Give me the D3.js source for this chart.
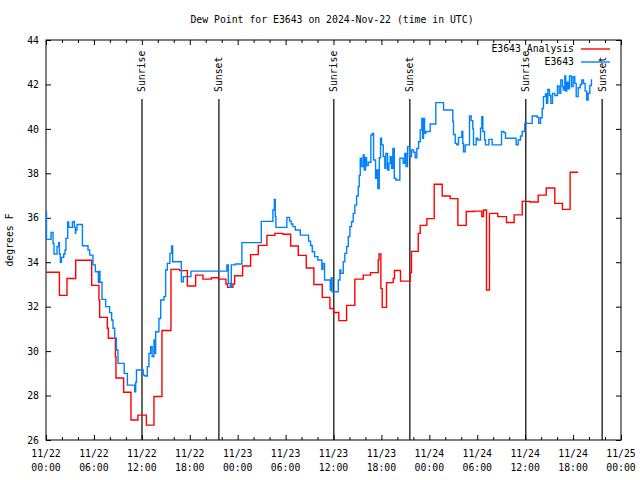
<!DOCTYPE html>
<html><head><meta charset="utf-8">
<script src="https://cdn.jsdelivr.net/npm/d3@7"></script>
<style>
body{margin:0;background:#fff;}
text{font-family:"DejaVu Sans Mono",monospace;font-size:9.8px;fill:#000;}
</style></head>
<body><svg id="c" width="640" height="480"></svg>
<script>
// Hours since 2024-11-22 00:00 UTC
const analysisHours = [0.00,1.68,2.63,3.72,5.72,6.63,6.72,7.68,7.81,8.69,8.76,9.72,10.64,11.51,12.57,13.52,14.52,15.65,16.73,17.70,18.74,19.65,20.70,21.62,22.53,22.74,23.40,23.62,24.62,25.62,26.58,27.66,28.66,29.66,30.63,31.59,32.59,33.54,34.59,35.55,36.01,36.67,37.64,38.67,39.73,40.64,41.60,41.70,41.93,42.10,42.64,43.48,43.64,44.39,45.61,45.77,46.61,46.86,47.69,48.61,49.61,50.61,51.57,52.62,53.62,54.57,54.78,55.16,55.53,56.57,57.66,58.62,59.63,60.58,61.63,62.63,63.71,64.67,65.63,66.63];
const analysisValues = [33.55,32.51,33.27,34.09,32.96,32.30,31.52,31.03,30.58,29.75,28.79,28.15,26.90,27.12,26.67,27.96,30.93,33.68,33.62,32.93,33.42,33.24,33.30,33.24,33.02,32.87,33.02,33.39,33.83,34.34,34.76,35.21,35.30,35.26,34.73,34.31,33.74,33.00,32.42,31.92,31.74,31.37,32.06,33.24,33.42,33.53,34.10,34.37,32.81,31.97,33.08,33.27,33.63,33.15,33.53,34.49,35.30,35.66,35.96,37.51,36.98,36.86,35.66,36.28,36.30,36.05,36.35,32.75,36.20,36.05,35.79,36.13,36.74,36.71,37.02,37.34,36.65,36.38,38.05,38.05];

const stationHours = [0.00,0.06,0.63,0.88,1.00,1.38,1.59,1.68,1.80,1.93,2.22,2.38,2.50,2.72,2.84,3.30,3.47,3.55,3.68,3.72,3.88,4.56,5.26,5.47,5.88,6.18,6.56,6.68,6.76,7.01,7.47,7.97,8.22,8.39,8.60,8.81,9.01,9.79,10.19,11.10,11.23,11.33,12.02,12.17,12.39,12.69,12.89,13.10,13.29,13.52,13.64,13.73,14.14,14.36,14.77,14.98,15.19,15.52,15.73,15.86,16.95,17.20,18.15,22.65,22.83,23.08,23.20,23.70,24.53,26.96,28.41,28.59,28.71,28.79,30.16,30.50,30.71,30.91,31.21,31.84,32.88,33.13,33.34,33.63,34.04,34.54,34.67,34.88,35.60,35.72,35.82,36.60,36.80,36.92,37.22,37.42,37.64,37.85,38.05,38.26,38.47,38.67,38.89,39.10,39.22,39.35,39.51,39.72,39.85,40.01,40.14,40.35,40.68,40.85,41.02,41.27,41.43,41.55,41.73,41.89,42.02,42.23,42.43,42.55,42.77,42.93,43.10,43.27,43.43,43.61,43.81,44.31,44.73,44.93,45.08,45.27,45.52,45.77,46.02,46.23,46.43,46.65,46.86,47.06,47.15,47.27,47.40,47.56,48.11,48.81,49.78,50.94,51.03,51.24,51.44,51.65,52.07,52.19,52.28,52.49,53.03,53.24,53.44,53.53,53.87,54.07,54.41,54.57,54.70,54.91,55.03,55.45,55.87,57.04,57.32,57.54,58.87,59.13,59.41,59.63,59.95,60.88,61.50,61.70,61.92,62.13,62.29,62.54,62.67,62.83,63.04,63.21,63.42,63.71,64.04,64.26,64.46,64.67,64.79,64.96,65.08,65.21,65.38,65.55,65.80,66.01,66.21,66.39,66.64,66.89,67.09,67.30,67.51,67.71,67.88,68.09,68.30];
const stationValues = [36.27,35.03,35.34,34.85,34.37,34.70,34.88,34.37,34.00,34.22,34.37,34.55,35.08,35.81,35.57,35.81,35.84,35.57,35.30,35.45,35.70,34.74,34.55,34.32,33.88,33.57,33.08,33.60,33.10,32.33,32.00,31.73,31.40,31.03,30.58,30.05,29.45,29.00,28.47,28.17,28.60,29.15,29.15,28.92,28.88,29.30,29.90,30.20,29.75,30.50,29.90,30.87,31.47,32.30,32.45,33.65,33.95,34.40,34.73,34.02,33.12,33.35,33.60,33.88,33.05,32.87,33.88,33.92,34.88,35.84,36.35,36.83,36.05,35.57,36.02,35.85,35.72,35.60,35.45,35.22,34.95,34.75,34.47,34.25,34.10,33.68,33.95,33.20,32.75,33.30,32.67,33.20,33.65,33.50,34.02,34.40,34.70,35.15,35.60,35.82,36.20,36.57,36.98,37.40,37.90,38.68,38.30,38.83,38.15,38.70,38.35,38.50,39.72,39.80,38.60,37.78,38.15,37.32,38.70,39.58,39.28,38.75,38.23,38.90,38.15,38.45,38.75,38.23,39.12,37.78,37.70,38.68,38.45,38.90,38.30,39.20,38.75,39.05,38.95,38.70,39.12,39.42,39.95,40.47,39.58,40.47,39.80,39.88,40.22,41.18,40.85,40.33,39.75,39.35,39.28,39.62,39.88,39.35,38.97,39.28,40.58,40.37,40.00,39.28,39.58,39.50,40.03,40.55,39.88,39.50,39.28,39.53,39.28,39.88,39.83,39.58,39.28,39.50,39.68,39.88,40.25,40.58,40.52,40.25,40.50,40.92,41.45,41.57,41.15,41.78,41.50,41.15,41.60,41.50,41.93,41.60,42.20,41.90,41.75,42.38,41.70,42.10,41.80,42.38,41.90,42.35,42.05,41.45,41.85,42.00,42.20,42.05,41.70,41.30,41.60,41.95,42.23];

const sunEventHours = [12.02,21.65,36.04,45.56,60.08,69.64];
const sunEventLabels = ["Sunrise","Sunset","Sunrise","Sunset","Sunrise","Sunset"];
const yTicks = [26,28,30,32,34,36,38,40,42,44];
const seriesNames = ["E3643 Analysis","E3643"];
const seriesColors = ["#ff0000","#0080ff"];
const titleText = "Dew Point for E3643 on 2024-Nov-22 (time in UTC)";
const yLabel = "degrees F";

const t0 = Date.UTC(2024,10,22,0,0);
const toDate = h => new Date(t0 + h*3600e3);
const start = new Date(t0), end = new Date(Date.UTC(2024,10,25,0,0));

const L=46, R=621, T=40, B=440;
const svg = d3.select("#c");
const x = d3.scaleUtc().domain([start,end]).range([L,R]);
const y = d3.scaleLinear().domain([26,44]).range([B,T]);

// title
svg.append("text").attr("x",332).attr("y",23).attr("text-anchor","middle").text(titleText);
// y label
svg.append("text").attr("transform","translate(13,240) rotate(-90)").attr("text-anchor","middle").text(yLabel);

const major = d3.utcHour.every(6).range(start, new Date(+end+1));
const minor = d3.utcHour.every(2).range(start, new Date(+end+1)).filter(d=>d.getUTCHours()%6!==0);

function clean(g){ g.select(".domain").remove(); g.selectAll("line").attr("stroke","#000"); }
svg.append("g").attr("transform",`translate(0,${B})`).call(d3.axisBottom(x).tickValues(major).tickSize(-5).tickFormat("")).call(clean);
svg.append("g").attr("transform",`translate(0,${B})`).call(d3.axisBottom(x).tickValues(minor).tickSize(-3).tickFormat("")).call(clean);
svg.append("g").attr("transform",`translate(0,${T})`).call(d3.axisTop(x).tickValues(major).tickSize(-5).tickFormat("")).call(clean);
svg.append("g").attr("transform",`translate(0,${T})`).call(d3.axisTop(x).tickValues(minor).tickSize(-3).tickFormat("")).call(clean);
svg.append("g").attr("transform",`translate(${L},0)`).call(d3.axisLeft(y).tickValues(yTicks).tickSize(-5).tickPadding(7).tickFormat(d3.format("d"))).call(clean)
  .selectAll("text").style("font-family","DejaVu Sans Mono").style("font-size","9.8px");
svg.append("g").attr("transform",`translate(${R},0)`).call(d3.axisRight(y).tickValues(yTicks).tickSize(-5).tickFormat("")).call(clean);

const fmtD = d3.utcFormat("%m/%d"), fmtT = d3.utcFormat("%H:%M");
const xl = svg.append("g").selectAll("text").data(major).join("text")
  .attr("text-anchor","middle").attr("x",d=>x(d));
xl.append("tspan").attr("x",d=>x(d)).attr("y",457).text(fmtD);
xl.append("tspan").attr("x",d=>x(d)).attr("y",471).text(fmtT);

// frame
svg.append("rect").attr("x",L).attr("y",T).attr("width",R-L).attr("height",B-T)
  .attr("fill","none").attr("stroke","#000").attr("stroke-width",1);

// sunrise/sunset
const sg = svg.append("g").selectAll("g").data(sunEventHours).join("g");
sg.append("line").attr("x1",d=>x(toDate(d))).attr("x2",d=>x(toDate(d)))
  .attr("y1",99).attr("y2",B).attr("stroke","#000").attr("stroke-width",1.2);
sg.append("text").attr("transform",d=>`translate(${x(toDate(d))},92) rotate(-90)`)
  .attr("text-anchor","start").attr("dy","0.35em").text((d,i)=>sunEventLabels[i]);

// series
const line = d3.line().curve(d3.curveStepAfter).x(d=>x(toDate(d[0]))).y(d=>y(d[1]));
const series = [
  d3.zip(analysisHours, analysisValues),
  d3.zip(stationHours, stationValues)
];
svg.append("g").selectAll("path").data(series).join("path")
  .attr("d",line).attr("fill","none").attr("stroke",(d,i)=>seriesColors[i]).attr("stroke-width",1.4);

// legend
const lg = svg.append("g").selectAll("g").data(seriesNames).join("g")
  .attr("transform",(d,i)=>`translate(0,${49+i*13})`);
lg.append("text").attr("x",574).attr("y",0).attr("dy","0.35em").attr("text-anchor","end").text(d=>d);
lg.append("line").attr("x1",581).attr("x2",610).attr("y1",0).attr("y2",0)
  .attr("stroke",(d,i)=>seriesColors[i]).attr("stroke-width",1.4);
</script></body></html>
